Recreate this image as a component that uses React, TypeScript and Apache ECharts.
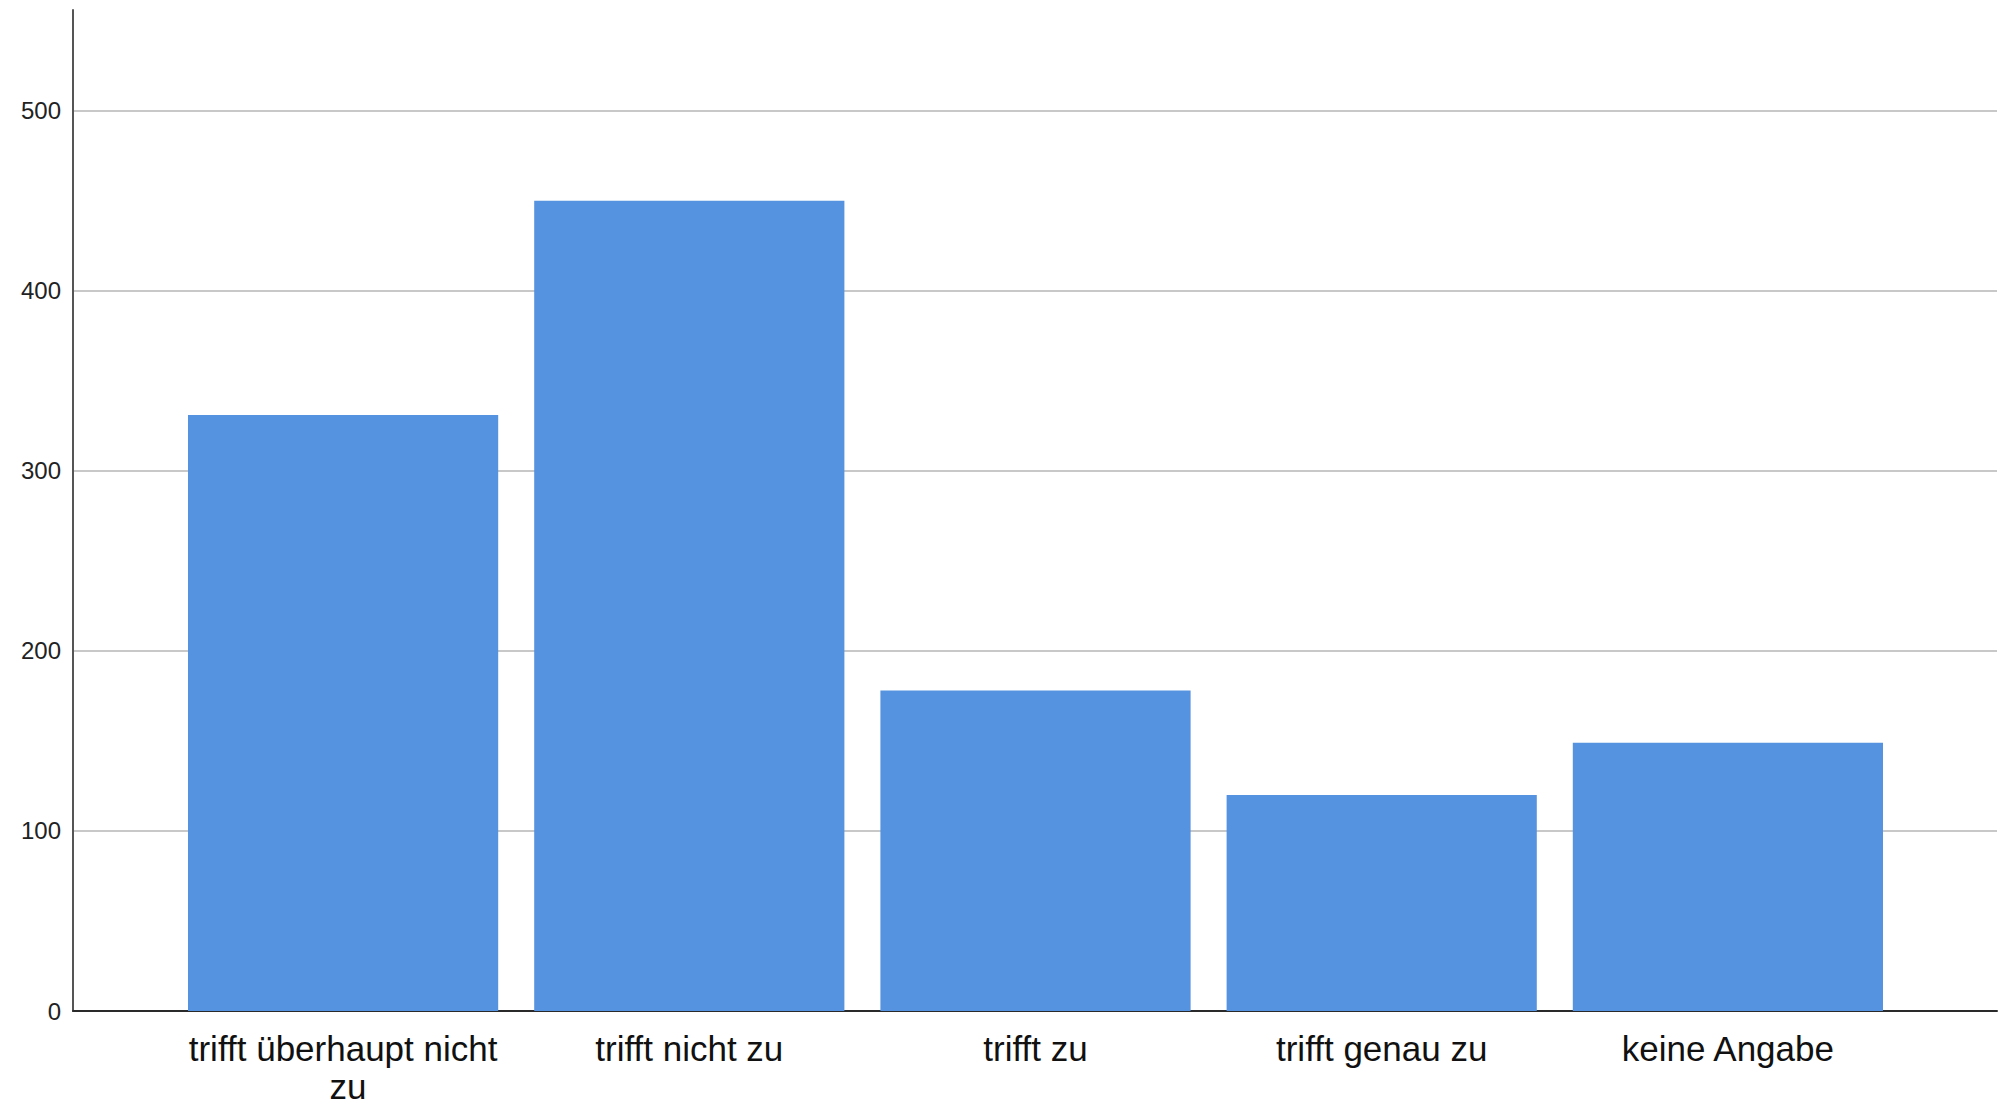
import React, { useEffect, useRef } from "react";
import * as echarts from "echarts";

const categories = [
  "trifft überhaupt nicht zu",
  "trifft nicht zu",
  "trifft zu",
  "trifft genau zu",
  "keine Angabe",
];
const counts = [331, 450, 178, 120, 149];
const yMax = 556;
const yInterval = 100;

export default function App() {
  const ref = useRef<HTMLDivElement>(null);
  useEffect(() => {
    document.body.style.margin = "0";
    const chart = echarts.init(ref.current!, null, { renderer: "svg" });
    const font = "Liberation Sans, Arial, sans-serif";
    chart.setOption({
      animation: false,
      backgroundColor: "#ffffff",
      grid: [
        { left: 73, right: 10, top: 10, bottom: 95 },
        { left: 170, right: 106, top: 10, bottom: 95 },
      ],
      xAxis: [
        {
          type: "value",
          gridIndex: 0,
          min: 0,
          max: 1,
          axisLine: { show: true, lineStyle: { color: "#2a2a2a", width: 2 } },
          axisTick: { show: false },
          axisLabel: { show: false },
          splitLine: { show: false },
        },
        {
          type: "category",
          gridIndex: 1,
          data: categories,
          axisLine: { show: false },
          axisTick: { show: false },
          axisLabel: {
            interval: 0,
            color: "#111111",
            fontFamily: font,
            fontSize: 35,
            lineHeight: 38,
            margin: 18,
            width: 330,
            overflow: "break",
          },
          splitLine: { show: false },
        },
      ],
      yAxis: [
        {
          type: "value",
          gridIndex: 0,
          min: 0,
          max: yMax,
          interval: yInterval,
          axisLine: { show: true, lineStyle: { color: "#555555", width: 2 } },
          axisTick: { show: false },
          axisLabel: {
            color: "#222222",
            fontFamily: font,
            fontSize: 24,
            margin: 12,
            showMaxLabel: false,
          },
          splitLine: {
            show: true,
            showMaxLine: false,
            lineStyle: { color: "#c8c8c8", width: 2 },
          },
        },
        {
          type: "value",
          gridIndex: 1,
          min: 0,
          max: yMax,
          interval: yInterval,
          show: false,
          splitLine: { show: false },
        },
      ],
      series: [
        {
          type: "bar",
          xAxisIndex: 1,
          yAxisIndex: 1,
          data: counts,
          barCategoryGap: "10.4%",
          itemStyle: { color: "#5593e0" },
        },
      ],
    });
    return () => chart.dispose();
  }, []);
  return (
    <div
      ref={ref}
      style={{ position: "fixed", left: 0, top: 0, width: 2007, height: 1106 }}
    />
  );
}
